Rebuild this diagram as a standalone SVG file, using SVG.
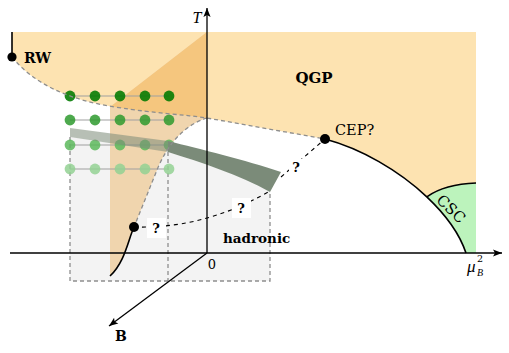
<svg xmlns="http://www.w3.org/2000/svg" width="509" height="353" viewBox="0 0 509 353">
<defs>
<marker id="arr" viewBox="-10 -5 10 10" refX="0" refY="0" markerWidth="10" markerHeight="10" markerUnits="userSpaceOnUse" orient="auto"><path d="M0,0 L-9,-3.6 L-7,0 L-9,3.6 Z" fill="#000"/></marker>
<style>
.gdash{fill:none;stroke:#8e8e8e;stroke-width:1.3;stroke-dasharray:4 3}
.bdash{fill:none;stroke:#000;stroke-width:1.1;stroke-dasharray:4 4}
.axis{fill:none;stroke:#000;stroke-width:1.3}
.solid{fill:none;stroke:#000;stroke-width:1.6}
.grey{fill:#f3f3f3}
.row{stroke:#a0a0a0;stroke-width:1.2}
.d1{fill:#007a00;fill-opacity:.88}
.d2{fill:#2e9a2e;fill-opacity:.85}
.d3{fill:#5cb85c;fill-opacity:.85}
.d4{fill:#93d193;fill-opacity:.85}
.bold{font-family:"DejaVu Serif",serif;font-weight:bold;fill:#000}
.rm{font-family:"DejaVu Serif",serif;fill:#000}
.it{font-family:"Liberation Serif",serif;font-style:italic;fill:#000}
.q{font-family:"DejaVu Serif",serif;font-weight:bold;font-size:13px;text-anchor:middle}
</style>
</defs>

<g id="qgp-region">
<path d="M12,32 H476 V183 Q445,184 426.8,196.8 C398.8,170.4 361,148.6 325,139 L207,118 C180,114 160,114 115,107 C70,100 35,85 12,57 Z" fill="#fde3b1"/>
</g>

<g id="csc-region">
<path d="M426.8,196.8 Q445,184 476,183 V253 H466 C459.6,233.8 445.4,214.3 426.8,196.8 Z" fill="#bcf3bc"/>
<path d="M426.8,196.8 Q445,184 476,183" class="solid" stroke-width="1.3"/>
</g>

<g id="lattice-boxes">
<path class="grey" d="M70,137 L168,152 V281 H70 Z"/>
<path class="grey" d="M168,152 C200,162 240,175 270,191 V281 H168 Z"/>
<path class="gdash" d="M70,137 V281 H270 V191 M168,152 V281"/>
</g>

<g id="crossover-region">
<path d="M110,107 L207,32 V118 C184,125 167,145 157,170 L134,227 C128,240 125,262 110,276 Z" fill="#f0d5ae"/>
<path d="M110,107 L207,32 V118 C180,114 160,114 115,107 Z" fill="#f5c67e"/>
</g>

<g id="lattice-points">
<line class="row" x1="70" y1="96" x2="169" y2="96"/>
<line class="row" x1="70" y1="120" x2="169" y2="120"/>
<line class="row" x1="70" y1="145" x2="169" y2="145"/>
<line class="row" x1="70" y1="169" x2="169" y2="169"/>
<g class="d1"><circle cx="70" cy="96" r="5.4"/><circle cx="95" cy="96" r="5.4"/><circle cx="120" cy="96" r="5.4"/><circle cx="145" cy="96" r="5.4"/><circle cx="169" cy="96" r="5.4"/></g>
<g class="d2"><circle cx="70" cy="120" r="5.4"/><circle cx="95" cy="120" r="5.4"/><circle cx="120" cy="120" r="5.4"/><circle cx="145" cy="120" r="5.4"/><circle cx="169" cy="120" r="5.4"/></g>
<g class="d3"><circle cx="70" cy="145" r="5.4"/><circle cx="95" cy="145" r="5.4"/><circle cx="120" cy="145" r="5.4"/><circle cx="145" cy="145" r="5.4"/><circle cx="169" cy="145" r="5.4"/></g>
<g class="d4"><circle cx="70" cy="169" r="5.4"/><circle cx="95" cy="169" r="5.4"/><circle cx="120" cy="169" r="5.4"/><circle cx="145" cy="169" r="5.4"/><circle cx="169" cy="169" r="5.4"/></g>
</g>

<g id="pseudocritical-band">
<path d="M70,128 L168,141 L168,152 L70,137 Z" fill="#7b8b79" fill-opacity=".55"/>
<path d="M168,141 C200,149 245,160 281,172 L270,192 C240,175 200,162 168,152 Z" fill="#7b8b79"/>
</g>

<g id="connectors">
<path class="gdash" d="M12,57 C35,85 70,100 115,107 C160,114 180,114 207,118 L325,139"/>
<path class="gdash" d="M207,118 C184,125 167,145 157,170 L134,227"/>
<path class="bdash" d="M134,227 C175,228 220,220 270,191"/>
<path class="bdash" d="M281,177 L325,139"/>
<path class="solid" d="M134,227 C128,240 125,262 110,276"/>
<path class="solid" d="M325,139 C361,148.6 398.8,170.4 426.8,196.8 C445.4,214.3 459.6,233.8 466,253"/>
<path class="solid" d="M12,32 V57"/>
<path class="axis" d="M10,253 H502" marker-end="url(#arr)"/>
<path class="axis" d="M207,253 V8" marker-end="url(#arr)"/>
<path class="axis" d="M207,253 L109,326" marker-end="url(#arr)"/>
</g>

<g id="critical-points">
<circle cx="12" cy="57" r="4.6"/>
<circle cx="325" cy="139" r="5"/>
<circle cx="134" cy="227" r="5"/>
</g>

<g id="question-marks">
<rect x="147" y="218" width="19" height="20" fill="#fff"/>
<text class="q" x="156" y="233">?</text>
<rect x="232" y="198" width="19" height="20" fill="#fff"/>
<text class="q" x="241" y="213">?</text>
<rect x="289" y="159" width="14" height="16" fill="#fff"/>
<text class="q" x="296" y="172">?</text>
</g>

<g id="labels">
<text class="bold" x="24" y="63" font-size="14">RW</text>
<text class="bold" x="314" y="83" font-size="15" text-anchor="middle">QGP</text>
<text class="rm" x="335" y="135" font-size="14.5">CEP?</text>
<text class="bold" x="223" y="243" font-size="13.5">hadronic</text>
<text class="rm" x="451" y="214" font-size="15" text-anchor="middle" transform="rotate(44 451 209)">CSC</text>
<text class="it" x="197" y="23" font-size="16" text-anchor="middle">T</text>
<text class="rm" x="212" y="269" font-size="13" text-anchor="middle">0</text>
<text class="bold" x="121" y="341" font-size="14" text-anchor="middle">B</text>
<text class="it" x="467" y="272" font-size="17">μ</text>
<text class="it" x="477" y="276" font-size="10">B</text>
<text class="rm" x="477" y="262" font-size="9.5">2</text>
</g>
</svg>
